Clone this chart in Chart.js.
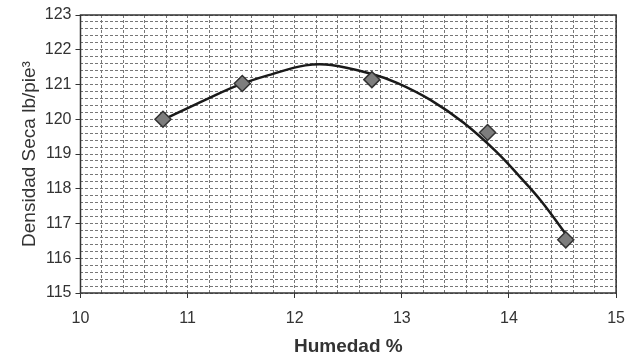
<!DOCTYPE html>
<html>
<head>
<meta charset="utf-8">
<script src="https://cdn.jsdelivr.net/npm/chart.js@4"></script>
<style>
  body { margin: 0; background: #fff; }
  #wrap { width: 636px; height: 358px; }
</style>
</head>
<body>
<div id="wrap"><canvas id="myChart"></canvas></div>
<script>
// measured points
var humedad = [10.77, 11.51, 12.72, 13.8, 14.53];
var densidad = [120.0, 121.03, 121.14, 119.62, 116.53];

// polynomial trend line
var curvaX = [10.77, 11.18, 11.48, 11.79, 12.1, 12.34, 12.72, 12.96, 13.27, 13.58, 13.89, 14.1, 14.3, 14.53];
var curvaY = [119.98, 120.58, 120.99, 121.3, 121.55, 121.56, 121.3, 121.04, 120.55, 119.89, 119.04, 118.35, 117.65, 116.7];

var xTicks = [10, 11, 12, 13, 14, 15];
var yTicks = [115, 116, 117, 118, 119, 120, 121, 122, 123];

function pairs(xs, ys) {
	return xs.map(function (x, i) { return { x: x, y: ys[i] }; });
}

function isMajor(v) {
	return Math.abs(v - Math.round(v)) < 1e-6;
}

// solid frame around the plot area
var frame = {
	id: "frame",
	afterDatasetsDraw: function (chart) {
		var a = chart.chartArea;
		var ctx = chart.ctx;
		ctx.save();
		ctx.strokeStyle = "#333";
		ctx.lineWidth = 1.5;
		ctx.strokeRect(a.left, a.top, a.right - a.left, a.bottom - a.top);
		ctx.restore();
	},
};

Chart.defaults.font.family = "'Liberation Sans', Arial, sans-serif";
Chart.defaults.color = "#333";

new Chart("myChart", {
	type: "scatter",
	data: {
		datasets: [
			{
				data: pairs(curvaX, curvaY),
				showLine: true,
				borderColor: "#1a1a1a",
				borderWidth: 2.5,
				pointRadius: 0,
				tension: 0.4,
				order: 2,
			},
			{
				data: pairs(humedad, densidad),
				pointStyle: "rectRot",
				pointRadius: 8,
				backgroundColor: "#7d7d7d",
				borderColor: "#333",
				borderWidth: 1.5,
				order: 1,
			},
		],
	},
	options: {
		responsive: true,
		maintainAspectRatio: false,
		animation: false,
		layout: { padding: { left: 18, right: 8, top: 15, bottom: 0 } },
		plugins: {
			legend: { display: false },
			tooltip: { enabled: false },
		},
		scales: {
			x: {
				min: xTicks[0],
				max: xTicks[xTicks.length - 1],
				ticks: {
					stepSize: 0.2,
					autoSkip: false,
					maxRotation: 0,
					font: { size: 16 },
					padding: 11,
					callback: function (v) { return isMajor(v) ? Math.round(v) : ""; },
				},
				grid: {
					color: "#777",
					lineWidth: 1,
					tickLength: 5,
					tickColor: function (c) { return isMajor(c.tick.value) ? "#333" : "rgba(0,0,0,0)"; },
				},
				border: { display: false, dash: [3, 2] },
				title: {
					display: true,
					text: "Humedad %",
					font: { size: 19, weight: "bold" },
					color: "#333",
					padding: { top: -4, bottom: 0 },
				},
			},
			y: {
				min: yTicks[0],
				max: yTicks[yTicks.length - 1],
				ticks: {
					stepSize: 0.2,
					autoSkip: false,
					font: { size: 16 },
					padding: 4,
					callback: function (v) { return isMajor(v) ? Math.round(v) : ""; },
				},
				grid: {
					color: "#777",
					lineWidth: 1,
					tickLength: 5,
					tickColor: function (c) { return isMajor(c.tick.value) ? "#333" : "rgba(0,0,0,0)"; },
				},
				border: { display: false, dash: [3, 2] },
				title: {
					display: true,
					text: "Densidad Seca lb/pie³",
					font: { size: 19 },
					color: "#333",
					padding: { top: 0, bottom: 0 },
				},
			},
		},
	},
	plugins: [frame],
});
</script>
</body>
</html>
